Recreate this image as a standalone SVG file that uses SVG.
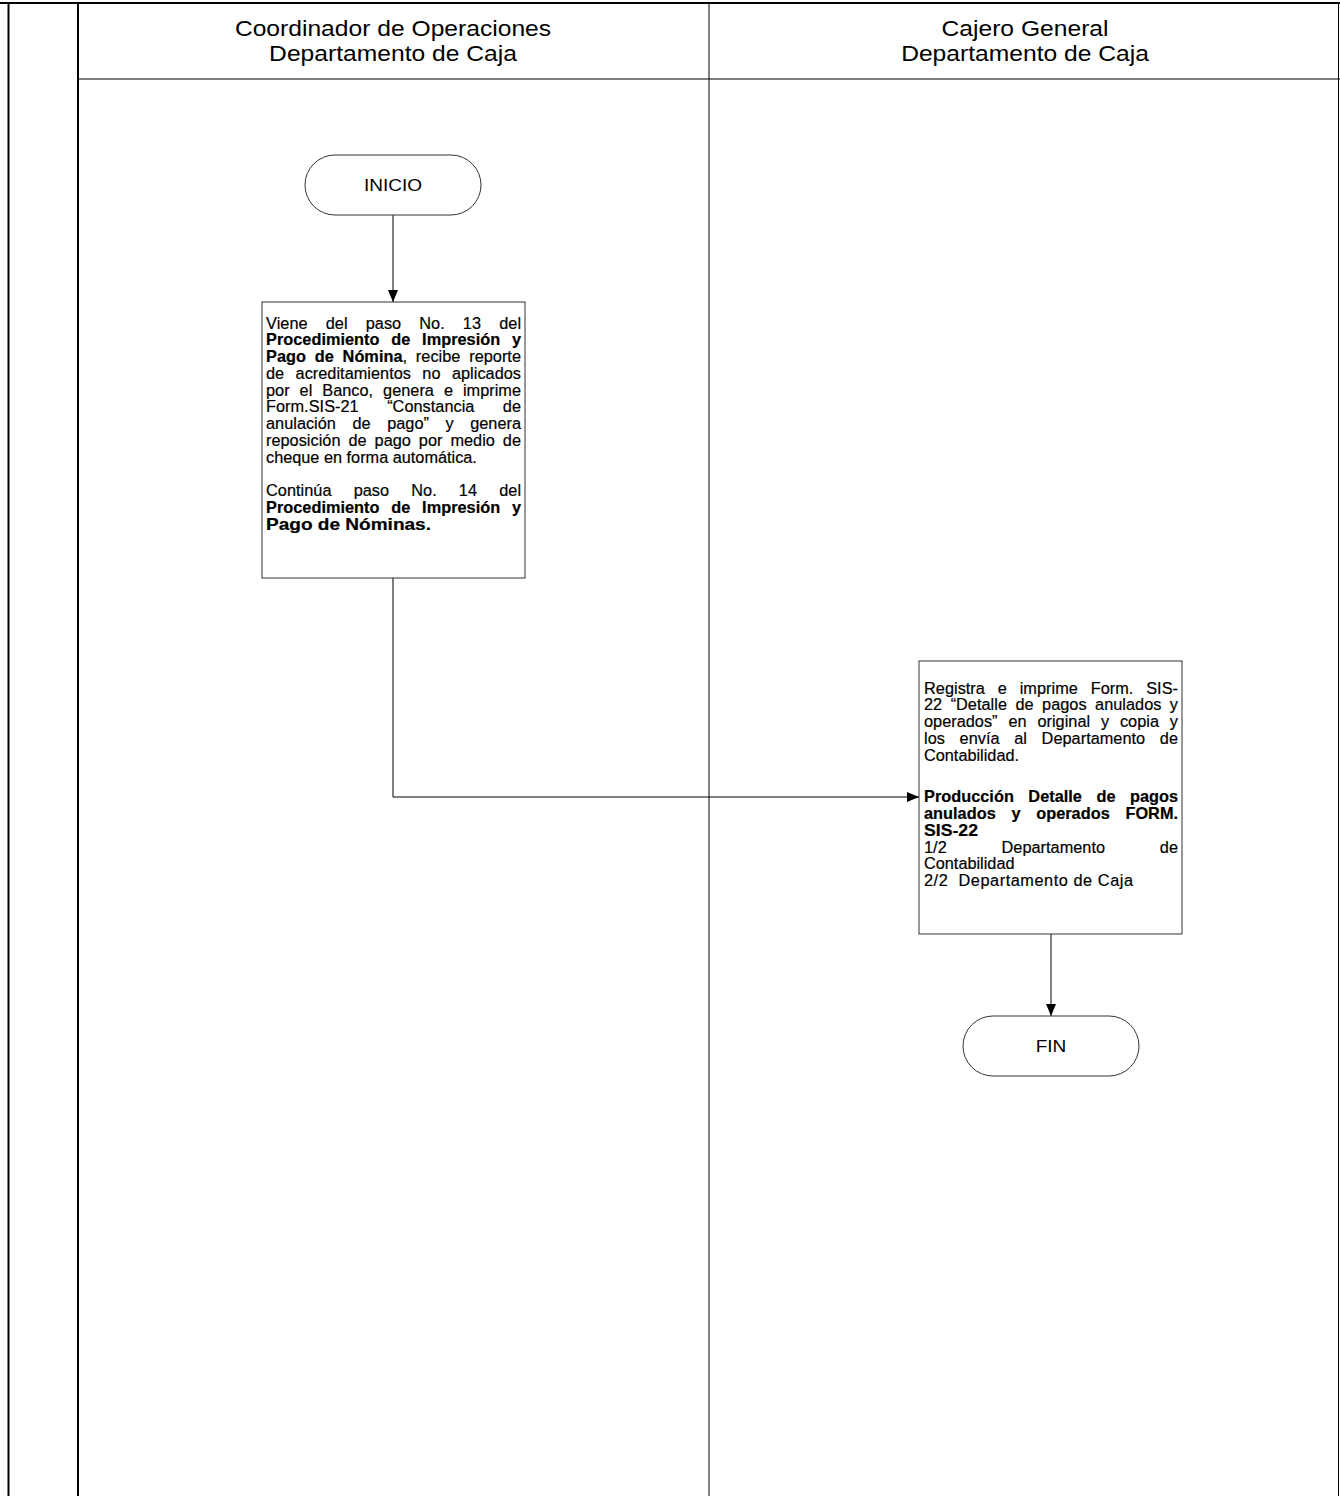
<svg xmlns="http://www.w3.org/2000/svg" width="1340" height="1496" viewBox="0 0 1340 1496">
<style>
.frame{stroke:#000;fill:none}
.box{fill:#fff;stroke:#333;stroke-width:1}
.term{fill:#fff;stroke:#333;stroke-width:1}
.conn{fill:none;stroke:#000;stroke-width:1}
text{font-family:"Liberation Sans",Arial,sans-serif;fill:#000}
.hd{font-size:22px;text-anchor:middle}
.tm{font-size:17px;text-anchor:middle}
.tx{font-size:16.3px;stroke:#000;stroke-width:0.2}
.b{font-weight:bold}
</style>
<defs>
<marker id="ah" viewBox="0 0 12 10" refX="12" refY="5" markerWidth="12" markerHeight="10" markerUnits="userSpaceOnUse" orient="auto">
<path d="M0,0 L12,5 L0,10 Z" fill="#000"/>
</marker>
</defs>
<rect width="1340" height="1496" fill="#fff"/>
<g id="lanes">
<line class="frame" x1="0" y1="3" x2="1340" y2="3" stroke-width="2"/>
<line class="frame" x1="8.5" y1="3" x2="8.5" y2="1496" stroke-width="2"/>
<line class="frame" x1="78" y1="3" x2="78" y2="1496" stroke-width="2"/>
<line class="frame" x1="709" y1="3" x2="709" y2="1496" stroke-width="1"/>
<line class="frame" x1="1338.5" y1="3" x2="1338.5" y2="1496" stroke-width="1"/>
<line class="frame" x1="78" y1="79" x2="1340" y2="79" stroke-width="1"/>
<g transform="scale(1.12 1)">
<text class="hd" x="350.9" y="36">Coordinador de Operaciones</text>
<text class="hd" x="350.9" y="61">Departamento de Caja</text>
<text class="hd" x="915.2" y="36">Cajero General</text>
<text class="hd" x="915.2" y="61">Departamento de Caja</text>
</g>
</g>
<g id="connectors">
<line class="conn" x1="393" y1="215" x2="393" y2="302" marker-end="url(#ah)"/>
<polyline class="conn" points="393,578 393,797 919,797" marker-end="url(#ah)"/>
<line class="conn" x1="1051" y1="934" x2="1051" y2="1016" marker-end="url(#ah)"/>
</g>
<g id="inicio">
<rect class="term" x="305" y="155" width="176" height="60" rx="30" ry="30"/>
<g transform="scale(1.12 1)"><text class="tm" x="350.9" y="191">INICIO</text></g>
</g>
<g id="paso1">
<rect class="box" x="262" y="302" width="263" height="276"/>
<g class="tx">
<text x="266" y="328.5" textLength="255" lengthAdjust="spacing" word-spacing="13.5">Viene del paso No. 13 del</text>
<text x="266" y="345.25" textLength="255" lengthAdjust="spacing" word-spacing="7.2" class="b">Procedimiento de Impresión y</text>
<text x="266" y="362" textLength="255" lengthAdjust="spacing" word-spacing="4.2"><tspan class="b">Pago de Nómina</tspan>, recibe reporte</text>
<text x="266" y="378.75" textLength="255" lengthAdjust="spacing" word-spacing="6.8">de acreditamientos no aplicados</text>
<text x="266" y="395.5" textLength="255" lengthAdjust="spacing" word-spacing="5.4">por el Banco, genera e imprime</text>
<text x="266" y="412.25" textLength="255" lengthAdjust="spacing" word-spacing="23.9">Form.SIS-21 “Constancia de</text>
<text x="266" y="429" textLength="255" lengthAdjust="spacing" word-spacing="12">anulación de pago” y genera</text>
<text x="266" y="445.75" textLength="255" lengthAdjust="spacing" word-spacing="3.4">reposición de pago por medio de</text>
<text x="266" y="462.5">cheque en forma automática.</text>
<text x="266" y="496" textLength="255" lengthAdjust="spacing" word-spacing="17.6">Continúa paso No. 14 del</text>
<text x="266" y="512.75" textLength="255" lengthAdjust="spacing" word-spacing="7.2" class="b">Procedimiento de Impresión y</text>
<text x="266" y="529.5" textLength="165" lengthAdjust="spacingAndGlyphs" class="b">Pago de Nóminas.</text>
</g>
</g>
<g id="paso2">
<rect class="box" x="919" y="661" width="263" height="273"/>
<g class="tx">
<text x="924" y="693.5" textLength="254" lengthAdjust="spacing" word-spacing="8.3">Registra e imprime Form. SIS-</text>
<text x="924" y="710.25" textLength="254" lengthAdjust="spacing" word-spacing="3.9">22 “Detalle de pagos anulados y</text>
<text x="924" y="727" textLength="254" lengthAdjust="spacing" word-spacing="6.3">operados” en original y copia y</text>
<text x="924" y="743.75" textLength="254" lengthAdjust="spacing" word-spacing="10.1">los envía al Departamento de</text>
<text x="924" y="760.5">Contabilidad.</text>
<text x="924" y="802.4" textLength="254" lengthAdjust="spacing" word-spacing="9.9" class="b">Producción Detalle de pagos</text>
<text x="924" y="819.15" textLength="254" lengthAdjust="spacing" word-spacing="11.1" class="b">anulados y operados FORM.</text>
<text x="924" y="835.9" textLength="54" lengthAdjust="spacingAndGlyphs" class="b">SIS-22</text>
<text x="924" y="852.65" textLength="254" lengthAdjust="spacing" word-spacing="50.2">1/2 Departamento de</text>
<text x="924" y="869.4">Contabilidad</text>
<text x="924" y="886.15" xml:space="preserve" textLength="209" lengthAdjust="spacing">2/2  Departamento de Caja</text>
</g>
</g>
<g id="fin">
<rect class="term" x="963" y="1016" width="176" height="60" rx="30" ry="30"/>
<g transform="scale(1.12 1)"><text class="tm" x="938.4" y="1052">FIN</text></g>
</g>
</svg>
